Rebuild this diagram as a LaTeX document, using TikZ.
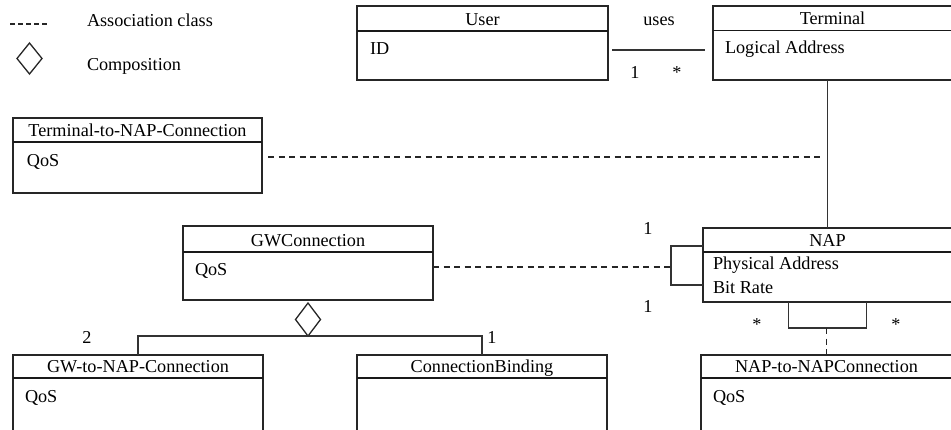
\documentclass[tikz,border=0pt]{standalone}
\usepackage{fontspec}
\setmainfont{Liberation Serif}
\usetikzlibrary{calc,shapes.geometric}

\tikzset{
  box/.style={draw=black!85, line width=1.3pt, inner sep=0pt, outer sep=0pt, anchor=north west},
  hdr/.style={draw=black!90, line width=1.8pt},
  lbl/.style={font=\fontsize{18.2}{21}\selectfont, inner sep=0pt, outer sep=0pt, anchor=base},
  attr/.style={lbl, anchor=base west},
  link/.style={draw=black!80, line width=1.3pt},
  assoc/.style={draw=black!85, line width=1.3pt, dash pattern=on 6pt off 4.5pt},
  compo/.style={draw=black!85, line width=1.3pt, diamond, inner sep=0pt, outer sep=0pt,
    minimum width=25pt, minimum height=33pt},
}

% class box: name, top-left corner, width, height, header depth, title
\newcommand\classbox[6]{%
  \node[box, minimum width=#3, minimum height=#4] (#1) at #2 {};
  \draw[hdr] ([yshift=-#5]#1.north west) -- ([yshift=-#5]#1.north east);
  \node[lbl] (#1-title) at ([yshift=-#5+6pt]#1.north) {#6};
}

\begin{document}
\begin{tikzpicture}[x=1pt, y=-1pt]
  \useasboundingbox (0,0) rectangle (951,429);

  % legend
  \coordinate (lg-a) at (10,24);
  \coordinate (lg-b) at (48,24);
  \draw[draw=black!85, line width=1.3pt, dash pattern=on 4.5pt off 3.5pt] (lg-a) -- (lg-b);
  \node[attr] (lg-assoc) at (87,26) {Association class};
  \node[compo, minimum width=25pt, minimum height=31pt] (lg-diam) at (29.5,58.5) {};
  \node[attr] (lg-comp) at (87,70) {Composition};

  % classes
  \classbox{user}{(357,6)}{251pt}{74pt}{25pt}{User}
  \node[attr] (user-id) at ([xshift=13pt, yshift=-48pt]user.north west) {ID};

  \classbox{term}{(713,6)}{239pt}{74pt}{24.5pt}{Terminal}
  \node[attr] (term-addr) at ([xshift=12pt, yshift=-47pt]term.north west) {Logical Address};

  \classbox{tnc}{(13,118)}{249pt}{75pt}{24pt}{Terminal-to-NAP-Connection}
  \node[attr] (tnc-qos) at ([xshift=14pt, yshift=-48pt]tnc.north west) {QoS};

  \classbox{gwc}{(183,226)}{250pt}{74pt}{26pt}{GWConnection}
  \node[attr] (gwc-qos) at ([xshift=12pt, yshift=-49pt]gwc.north west) {QoS};

  \classbox{nap}{(703,228)}{249pt}{74pt}{24pt}{NAP}
  \node[attr] (nap-phys) at ([xshift=10pt, yshift=-41pt]nap.north west) {Physical Address};
  \node[attr] (nap-rate) at ([xshift=10pt, yshift=-65pt]nap.north west) {Bit Rate};

  \classbox{gwn}{(13,355)}{250pt}{80pt}{23pt}{GW-to-NAP-Connection}
  \node[attr] (gwn-qos) at ([xshift=12pt, yshift=-47pt]gwn.north west) {QoS};

  \classbox{cb}{(357,355)}{250pt}{80pt}{23pt}{ConnectionBinding}

  \classbox{nn}{(701,355)}{251pt}{80pt}{23pt}{NAP-to-NAPConnection}
  \node[attr] (nn-qos) at ([xshift=12pt, yshift=-47pt]nn.north west) {QoS};

  % User -- Terminal
  \coordinate (uses-a) at ([xshift=4pt, yshift=-44pt]user.north east);
  \coordinate (uses-b) at ([xshift=-8pt, yshift=-44pt]term.north west);
  \draw[link] (uses-a) -- (uses-b);
  \node[lbl] (uses-lbl) at (659,25) {uses};
  \node[lbl] (uses-m1) at (635,78) {1};
  \node[lbl] (uses-m2) at (677,78) {*};

  % Terminal -- NAP
  \draw[link] (term.south west -| nap.north) -- (nap.north);
  \coordinate (tnc-end) at (820,157);
  \draw[assoc] ([xshift=6pt, yshift=-1.5pt]tnc.east) -- (tnc-end);

  % NAP self association (left) with GWConnection as association class
  \coordinate (br-top) at ([xshift=-32pt, yshift=-18pt]nap.north west);
  \coordinate (br-bot) at ([xshift=-32pt, yshift=-57pt]nap.north west);
  \draw[link] ([yshift=-18pt]nap.north west) -- (br-top) -- (br-bot) -- ([yshift=-57pt]nap.north west);
  \coordinate (br-mid) at (671,267);
  \draw[assoc] (gwc.east |- br-mid) -- (br-mid);
  \node[lbl] (br-m1) at (648,234) {1};
  \node[lbl] (br-m2) at (648,312) {1};

  % NAP self association (below) with NAP-to-NAPConnection as association class
  \coordinate (lb-l) at ([xshift=-39pt, yshift=-26pt]nap.south);
  \coordinate (lb-r) at ([xshift=39pt, yshift=-26pt]nap.south);
  \draw[link] ([xshift=-39pt]nap.south) -- (lb-l) -- (lb-r) -- ([xshift=39pt]nap.south);
  \draw[assoc] (nn.north |- lb-l) -- (nn.north);
  \node[lbl] (lb-m1) at (757,330) {*};
  \node[lbl] (lb-m2) at (896,330) {*};

  % composition of GWConnection
  \node[compo] (comp) at (308,319.5) {};
  \draw[link] (gwn.north) |- (comp.south) -| (cb.north);
  \node[lbl] (comp-m1) at (87,343) {2};
  \node[lbl] (comp-m2) at (492,343) {1};
\end{tikzpicture}
\end{document}
